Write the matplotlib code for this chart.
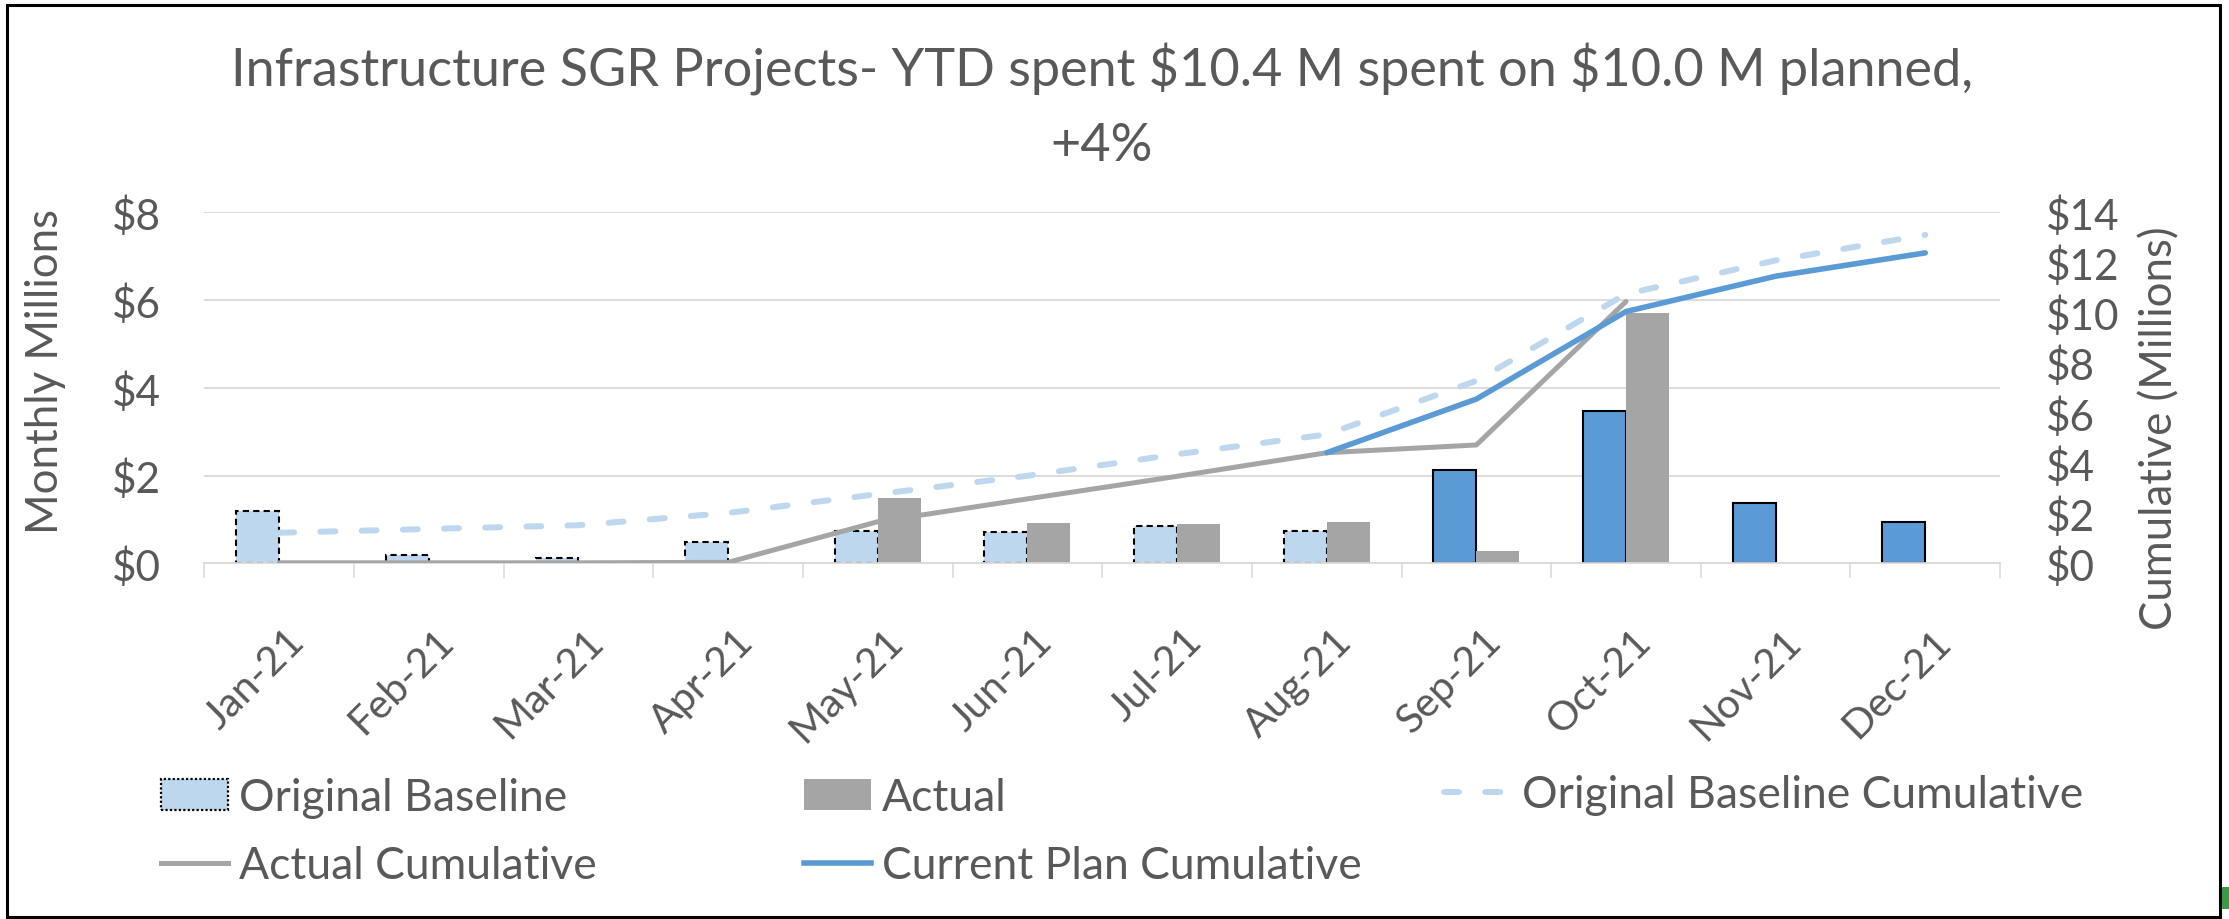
import numpy as np
import matplotlib.pyplot as plt
from matplotlib.patches import Patch, Rectangle
from matplotlib.lines import Line2D
from matplotlib.ticker import FuncFormatter
from matplotlib.transforms import ScaledTranslation

plt.rcParams['font.family'] = ['Lato', 'DejaVu Sans']

# ------------- data (millions) -------------
months = ["Jan-21", "Feb-21", "Mar-21", "Apr-21", "May-21", "Jun-21",
          "Jul-21", "Aug-21", "Sep-21", "Oct-21", "Nov-21", "Dec-21"]
baseline_monthly = [1.20, 0.19, 0.12, 0.49, 0.74, 0.71, 0.86, 0.74, 2.13, 3.48, 1.37, 0.94]
actual_monthly = [0.0, 0.0, 0.0, 0.02, 1.50, 0.92, 0.90, 0.95, 0.29, 5.70, np.nan, np.nan]
baseline_cum = [1.22, 1.37, 1.52, 2.01, 2.76, 3.49, 4.35, 5.14, 7.28, 10.74, 12.08, 13.10]
actual_cum = [0.02, 0.02, 0.02, 0.04, 1.66, 2.57, 3.47, 4.41, 4.72, 10.44, np.nan, np.nan]
plan_cum = [np.nan] * 7 + [4.41, 6.55, 10.04, 11.45, 12.38]
n_orig = 8  # months still shown as original baseline

LIGHT = '#BDD7EE'
BLUE = '#5B9BD5'
GREY = '#A5A5A5'
TXT = '#595959'
GRID = '#D9D9D9'

fig = plt.figure(figsize=(22.29, 9.2), dpi=100)
ax = fig.add_axes([0.0917, 0.3866, 0.8056, 0.3816])
x = np.arange(len(months))
w = 0.287

# monthly bars
face = [LIGHT] * n_orig + [BLUE] * (len(months) - n_orig)
bars = ax.bar(x - w / 2, baseline_monthly, w, color=face, edgecolor='black', linewidth=1.5)
for i, b in enumerate(bars):
    if i < n_orig:
        b.set_linestyle((0, (3, 2)))
ax.bar(x + w / 2, actual_monthly, w, color=GREY, linewidth=0)

money = FuncFormatter(lambda v, p: "${:.0f}".format(v))
ax.set_ylim(0, 8)
ax.set_yticks(np.arange(0, 9, 2))
ax.yaxis.set_major_formatter(money)
ax.set_xlim(-0.5, len(months) - 0.5)
ax.grid(axis='y', color=GRID, linewidth=1.3)
ax.set_axisbelow(True)
for s in ['top', 'left', 'right']:
    ax.spines[s].set_visible(False)
ax.spines['bottom'].set_color(GRID)
ax.spines['bottom'].set_linewidth(1.3)
ax.tick_params(axis='y', length=0, pad=31, labelsize=30.5, labelcolor=TXT)
ax.set_xticks(x)
ax.set_xticklabels(months, rotation=45, ha='right', va='top', rotation_mode='anchor')
ax.tick_params(axis='x', which='major', length=0, pad=42, labelsize=29.5, labelcolor=TXT)
ax.set_xticks(np.arange(-0.5, len(months), 1), minor=True)
ax.tick_params(axis='x', which='minor', length=11, width=1.1, color=GRID)
shift = ScaledTranslation(6 / 100, 0, fig.dpi_scale_trans)
for lab in ax.get_xticklabels():
    lab.set_transform(lab.get_transform() + shift)

# cumulative lines
ax2 = ax.twinx()
ax2.plot(x, baseline_cum, color=LIGHT, lw=4.3, dashes=(2.5, 4.4), dash_capstyle='round')
ax2.plot(x, actual_cum, color=GREY, lw=3.6, solid_capstyle='round', solid_joinstyle='round')
ax2.plot(x, plan_cum, color=BLUE, lw=4.0, solid_capstyle='round', solid_joinstyle='round')
ax2.set_ylim(0, 14)
ax2.set_yticks(np.arange(0, 15, 2))
ax2.yaxis.set_major_formatter(money)
for s in ax2.spines.values():
    s.set_visible(False)
ax2.tick_params(axis='y', length=0, pad=33, labelsize=30.5, labelcolor=TXT)

# titles and axis labels
fig.text(1102 / 2229, 1 - 87 / 920,
         "Infrastructure SGR Projects- YTD spent $10.4 M spent on $10.0 M planned,",
         ha='center', va='baseline', fontsize=37.6, color=TXT, parse_math=False)
fig.text(1102 / 2229, 1 - 161 / 920, "+4%", ha='center', va='baseline', fontsize=37.6,
         color=TXT, parse_math=False)
fig.text(46 / 2229, 1 - 372 / 920, "Monthly Millions", rotation=90,
         ha='center', va='center', fontsize=31.5, color=TXT)
fig.text(2160 / 2229, 1 - 428 / 920, "Cumulative (Millions)", rotation=90,
         ha='center', va='center', fontsize=31.5, color=TXT)

# legend, three columns like excel
h_ob = Patch(facecolor=LIGHT, edgecolor='black', linestyle=(0, (1, 1)), linewidth=1.6)
h_act = Patch(facecolor=GREY, edgecolor='none')
h_obc = Line2D([], [], color=LIGHT, lw=4.3, dashes=(2.5, 4.4), dash_capstyle='round')
h_ac = Line2D([], [], color=GREY, lw=3.6)
h_cpc = Line2D([], [], color=BLUE, lw=4.0)
leg_kw = dict(frameon=False, fontsize=32, labelcolor=TXT, handlelength=1.5,
              handleheight=0.7, handletextpad=0.25, labelspacing=0.62,
              borderpad=0, borderaxespad=0, loc='center left')
row1 = 1 - 796 / 920
row2 = 1 - 869 / 920
cols = [([h_ob, h_ac], ["Original Baseline", "Actual Cumulative"], 161),
        ([h_act, h_cpc], ["Actual", "Current Plan Cumulative"], 804),
        ([h_obc], ["Original Baseline Cumulative"], 1444)]
for hs, labs, x0 in cols:
    yc = (row1 + row2) / 2 if len(hs) == 2 else row1
    lg = fig.legend(hs, labs, bbox_to_anchor=(x0 / 2229, yc), **leg_kw)

# outer border of the chart area
fig.patches.append(Rectangle((7 / 2229, 2 / 920), 2212.5 / 2229, 912 / 920,
                             transform=fig.transFigure, fill=False, lw=2.2, ec='black'))
fig.patches.append(Rectangle((2222 / 2229, 10 / 920), 7 / 2229, 22 / 920,
                             transform=fig.transFigure, color='#3A9A45', lw=0))

fig.savefig('out.png', dpi=100)
